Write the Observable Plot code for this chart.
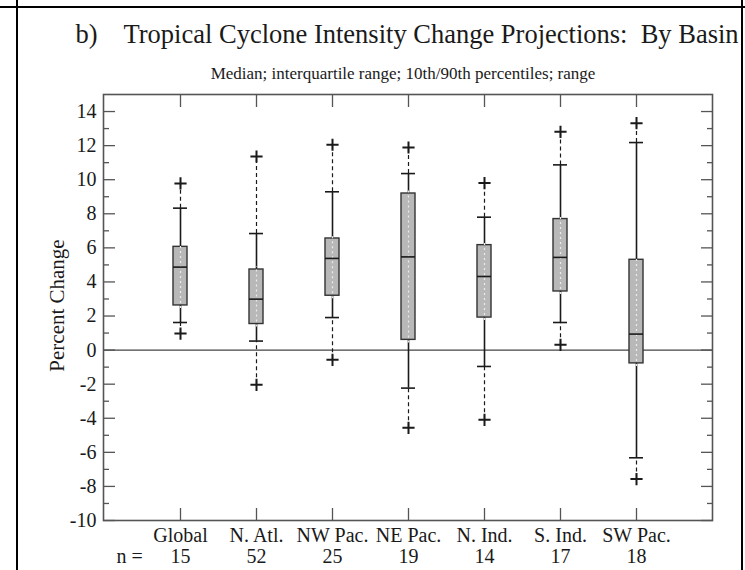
<!DOCTYPE html>
<html><head><meta charset="utf-8">
<script src="https://cdn.jsdelivr.net/npm/d3@7"></script>
<script src="https://cdn.jsdelivr.net/npm/@observablehq/plot@0.6"></script>
<style>
body{margin:0;background:#fff;}
#wrap{position:relative;width:745px;height:570px;overflow:hidden;}
#wrap svg text{white-space:pre;}
.bl{position:absolute;background:#000;z-index:2;}
</style></head><body><div id="wrap"></div>
<script>
const basins   = ["Global","N. Atl.","NW Pac.","NE Pac.","N. Ind.","S. Ind.","SW Pac."];
const nCounts  = [15, 52, 25, 19, 14, 17, 18];
const minVals  = [0.97, -2.04, -0.57, -4.56, -4.09, 0.31, -7.57];
const p10Vals  = [1.62, 0.53, 1.91, -2.23, -0.96, 1.62, -6.32];
const q1Vals   = [2.62, 1.53, 3.19, 0.60, 1.91, 3.44, -0.78];
const medVals  = [4.87, 2.99, 5.38, 5.47, 4.32, 5.44, 0.94];
const q3Vals   = [6.06, 4.73, 6.55, 9.19, 6.16, 7.69, 5.30];
const p90Vals  = [8.33, 6.84, 9.29, 10.36, 7.80, 10.87, 12.18];
const maxVals  = [9.78, 11.36, 12.05, 11.89, 9.80, 12.81, 13.32];
const majorTicks = [-10,-8,-6,-4,-2,0,2,4,6,8,10,12,14];
const minorTicks = [-9,-7,-5,-3,-1,1,3,5,7,9,11,13];
const titleLead = "b)";
const titleText = "Tropical Cyclone Intensity Change Projections:  By Basin";
const subtitleText = "Median; interquartile range; 10th/90th percentiles; range";
const yLabel = "Percent Change";
const nLabel = "n =";

const data = basins.map((b, i) => ({
  basin: b, n: nCounts[i], min: minVals[i], p10: p10Vals[i], q1: q1Vals[i],
  med: medVals[i], q3: q3Vals[i], p90: p90Vals[i], max: maxVals[i]
}));

const font = '"Liberation Serif","Times New Roman",serif';
const ink = "#1a1a1a";
const axisInk = "#555";

const chart = Plot.plot({
  width: 745, height: 570,
  marginTop: 94, marginLeft: 103, marginRight: 33, marginBottom: 50,
  style: {fontFamily: font, background: "transparent", color: ink},
  x: {type: "band", domain: basins, paddingInner: 0.816, paddingOuter: 0.908, label: null},
  y: {domain: [-10, 15], label: null},
  marks: [
    Plot.ruleY([0], {stroke: "#444", strokeWidth: 1.2}),
    // solid whiskers box -> 10th/90th
    Plot.ruleX(data, {x: "basin", y1: "q3", y2: "p90", stroke: ink, strokeWidth: 1.6}),
    Plot.ruleX(data, {x: "basin", y1: "p10", y2: "q1", stroke: ink, strokeWidth: 1.6}),
    // dashed whiskers 10th/90th -> range
    Plot.ruleX(data, {x: "basin", y1: "p90", y2: "max", stroke: ink, strokeWidth: 1.2, strokeDasharray: "4,3"}),
    Plot.ruleX(data, {x: "basin", y1: "min", y2: "p10", stroke: ink, strokeWidth: 1.2, strokeDasharray: "4,3"}),
    // boxes
    Plot.barY(data, {x: "basin", y1: "q1", y2: "q3", fill: "#b8b8b8", stroke: "#333", strokeWidth: 1.4}),
    Plot.ruleX(data, {x: "basin", y1: "q1", y2: "q3", stroke: "#ececec", strokeWidth: 1.2, strokeDasharray: "2,3", insetTop: 3, insetBottom: 3}),
    Plot.tickY(data, {x: "basin", y: "med", stroke: ink, strokeWidth: 1.6}),
    // caps
    Plot.tickY(data, {x: "basin", y: "p90", stroke: ink, strokeWidth: 1.6}),
    Plot.tickY(data, {x: "basin", y: "p10", stroke: ink, strokeWidth: 1.6}),
    // range markers
    Plot.dot(data, {x: "basin", y: "max", symbol: "plus", r: 4, stroke: ink, strokeWidth: 2}),
    Plot.dot(data, {x: "basin", y: "min", symbol: "plus", r: 4, stroke: ink, strokeWidth: 2}),
    Plot.frame({stroke: axisInk, strokeWidth: 1.6}),
    // inward ticks
    Plot.axisY({anchor: "left", ticks: majorTicks, tickSize: -12, tickFormat: () => "", label: null, stroke: axisInk, strokeWidth: 1.3}),
    Plot.axisY({anchor: "left", ticks: minorTicks, tickSize: -6, tickFormat: () => "", label: null, stroke: axisInk, strokeWidth: 1.3}),
    Plot.axisY({anchor: "right", ticks: majorTicks, tickSize: -12, tickFormat: () => "", label: null, stroke: axisInk, strokeWidth: 1.3}),
    Plot.axisY({anchor: "right", ticks: minorTicks, tickSize: -6, tickFormat: () => "", label: null, stroke: axisInk, strokeWidth: 1.3}),
    Plot.axisX({anchor: "bottom", tickSize: -12, tickFormat: () => "", label: null, stroke: axisInk, strokeWidth: 1.3}),
    Plot.axisX({anchor: "top", tickSize: -12, tickFormat: () => "", label: null, stroke: axisInk, strokeWidth: 1.3}),
    // tick labels
    Plot.axisY({anchor: "left", ticks: majorTicks, tickSize: 0, tickPadding: 7, tickFormat: d => String(d), label: null, fontSize: 20, fontFamily: font, fill: ink}),
    Plot.axisX({anchor: "bottom", tickSize: 0, tickPadding: 7, label: null, fontSize: 20, fontFamily: font, fill: ink}),
    // n row
    Plot.text(data, {x: "basin", text: d => String(d.n), frameAnchor: "bottom", dy: 28, lineAnchor: "top", fontSize: 20, fontFamily: font, fill: ink}),
    Plot.text([nLabel], {frameAnchor: "bottom-left", dx: 13, dy: 28, lineAnchor: "top", textAnchor: "start", fontSize: 20, fontFamily: font, fill: ink}),
    // y label
    Plot.text([yLabel], {frameAnchor: "left", rotate: -90, dx: -40, dy: -2, lineAnchor: "bottom", textAnchor: "middle", fontSize: 21, fontFamily: font, fill: ink}),
    // title & subtitle
    Plot.text([titleLead], {frameAnchor: "top-left", dx: -28, dy: -52, lineAnchor: "bottom", textAnchor: "start", fontSize: 26.5, fontFamily: font, fill: ink}),
    Plot.text([titleText], {frameAnchor: "top-left", dx: 20, dy: -52, lineAnchor: "bottom", textAnchor: "start", fontSize: 26.5, fontFamily: font, fill: ink}),
    Plot.text([subtitleText], {frameAnchor: "top", dx: -5, dy: -16, lineAnchor: "bottom", textAnchor: "middle", fontSize: 17, fontFamily: font, fill: ink})
  ]
});

const wrap = document.getElementById("wrap");
wrap.appendChild(chart);
// decorative panel border
[["0px","6px","745px","2px"],["16px","0px","2px","570px"],["741px","0px","2px","570px"]].forEach(([l,t,w,h]) => {
  const d = document.createElement("div");
  d.className = "bl";
  Object.assign(d.style, {left: l, top: t, width: w, height: h});
  wrap.appendChild(d);
});
</script>
</body></html>
